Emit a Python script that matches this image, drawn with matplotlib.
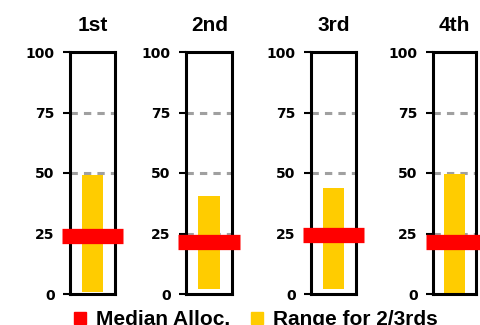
import matplotlib
matplotlib.use("Agg")
import matplotlib.pyplot as plt
from matplotlib.lines import Line2D

# Quartile panels: median allocation and the range covering two thirds
quartiles = ["1st", "2nd", "3rd", "4th"]
median_alloc = [23.8, 21.6, 24.3, 21.3]
range_low = [1.0, 2.0, 2.0, 0.5]
range_high = [49.0, 40.7, 43.9, 49.6]
y_ticks = [0, 25, 50, 75, 100]
grid_levels = [25, 50, 75]
legend_labels = ["Median Alloc.", "Range for 2/3rds"]

RED = "#FF0000"
YELLOW = "#FFCC00"
GRID = "#A0A0A0"

W, H = 481, 325
fig = plt.figure(figsize=(W / 100, H / 100), dpi=100)

# panel boxes in pixels: (left, width)
boxes = [(70, 45.5), (186, 46.5), (311, 45), (433, 43)]
top_px, bottom_px = 52, 294

for i, (left, width) in enumerate(boxes):
    ax = fig.add_axes([left / W, (H - bottom_px) / H, width / W, (bottom_px - top_px) / H])
    ax.set_xlim(0, 1)
    ax.set_ylim(0, 100)

    # dashed reference levels behind the range bar
    for lvl in grid_levels:
        ax.plot([0, 1], [lvl, lvl], color=GRID, lw=2.2,
                linestyle=(0, (2.4, 2.0)), zorder=1)

    ax.bar(0.5, range_high[i] - range_low[i], bottom=range_low[i],
           width=0.47, color=YELLOW, zorder=2)

    ax.plot([-0.17, 1.17], [median_alloc[i], median_alloc[i]], color=RED,
            lw=11, solid_capstyle="butt", zorder=4, clip_on=False)

    for sp in ax.spines.values():
        sp.set_linewidth(2.2)
        sp.set_color("black")
        sp.set_zorder(3)

    ax.set_xticks([])
    ax.set_yticks(y_ticks)
    ax.set_yticklabels([str(t) for t in y_ticks])
    ax.tick_params(axis="y", direction="out", length=5, width=1.5, pad=6,
                   labelsize=10, colors="black")
    for lab in ax.get_yticklabels():
        lab.set_fontfamily("DejaVu Sans")
        lab.set_fontweight("bold")

    ax.set_title(quartiles[i], fontsize=15, family="Liberation Sans",
                 fontweight="bold", pad=15)

handles = [
    Line2D([], [], marker="s", color=RED, markersize=8.5, linestyle="None"),
    Line2D([], [], marker="s", color=YELLOW, markersize=8.5, linestyle="None"),
]
fig.legend(handles, legend_labels, loc="lower left",
           bbox_to_anchor=(73 / W, -0.012), ncol=2, frameon=False,
           prop={"family": "Liberation Sans", "size": 15, "weight": "bold"},
           handlelength=0.7, handletextpad=0.4, columnspacing=0.95,
           borderpad=0, borderaxespad=0)

fig.savefig("out.png", dpi=100)
